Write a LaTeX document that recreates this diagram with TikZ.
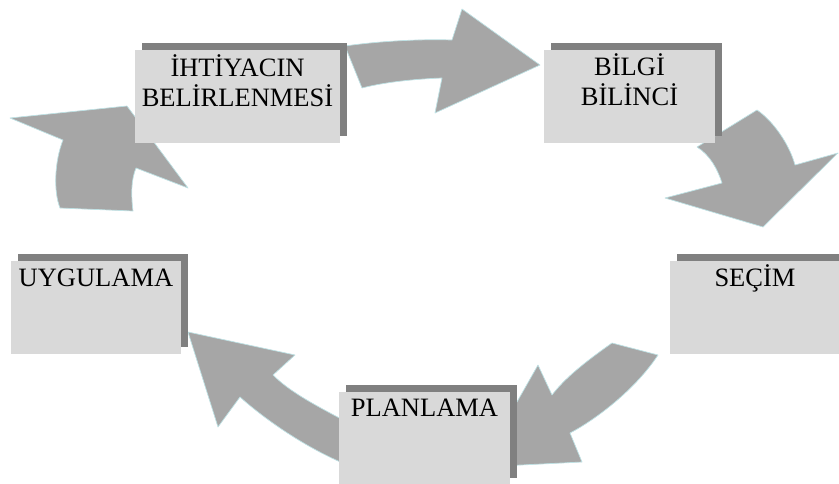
\documentclass[tikz,border=0pt]{standalone}
\usepackage{fontspec}
\setmainfont{Liberation Serif}
\definecolor{KutuGri}{RGB}{217,217,217}
\definecolor{GolgeGri}{RGB}{128,128,128}
\definecolor{OkGri}{RGB}{166,166,166}
\definecolor{OkKenar}{RGB}{190,225,228}
\usetikzlibrary{shadows}

\begin{document}
\begin{tikzpicture}[x=1pt,y=-1pt,
  kutu/.style={fill=KutuGri,minimum height=93,inner sep=0,
    drop shadow={shadow xshift=7pt,shadow yshift=7pt,fill=GolgeGri,opacity=1}},
  yazi/.style={font=\fontsize{26.5}{30}\selectfont,align=center,inner sep=0,anchor=base},
  blokok/.style={fill=OkGri,draw=OkKenar,line width=0.7pt,line join=round}]
  \useasboundingbox (0,0) rectangle (839,483);
  % oklar (kutularin altinda)
  \filldraw[blokok] (345,46) .. controls (380,41) and (420,39) .. (452,40) -- (462,9) -- (540,65)
    -- (435,113) -- (442,78) .. controls (415,79) and (385,82) .. (362,88) -- cycle;
  \filldraw[blokok] (757,110) .. controls (772,120) and (789,143) .. (795,165) -- (838,153) -- (763,227)
    -- (665,198) -- (722,183) .. controls (718,170) and (710,155) .. (697,147) -- cycle;
  \filldraw[blokok] (612,343) .. controls (585,362) and (565,378) .. (552,395) -- (538,365) -- (480,467)
    -- (582,462) -- (570,433) .. controls (595,420) and (635,390) .. (658,355) -- cycle;
  \filldraw[blokok] (345,421) .. controls (315,405) and (290,392) .. (273,375) -- (295,355) -- (188,332)
    -- (218,427) -- (240,397) .. controls (260,415) and (300,445) .. (345,464) -- cycle;
  \filldraw[blokok] (60,208) .. controls (53,190) and (55,160) .. (63,140) -- (10,118) -- (127,106)
    -- (188,188) -- (136,168) .. controls (131,180) and (131,195) .. (133,211) -- cycle;
  % kutular (yazi: son satirin tabani)
  \foreach \ad/\cx/\cy/\w/\dy/\metin in {ihtiyac/237.5/96.5/205/57/{İHTİYACIN\\BELİRLENMESİ},
      bilgi/629.5/96.5/171/56/{BİLGİ\\BİLİNCİ},secim/755/307.5/170/26/{SEÇİM},
      planlama/424.5/438.5/171/25/{PLANLAMA},uygulama/96/307.5/170/26/{UYGULAMA}} {
    \node[kutu,minimum width=\w] (\ad) at (\cx,\cy) {};
    \node[yazi] (\ad-yazi) at ([yshift=-\dy]\ad.north) {\metin};
  }
\end{tikzpicture}
\end{document}
